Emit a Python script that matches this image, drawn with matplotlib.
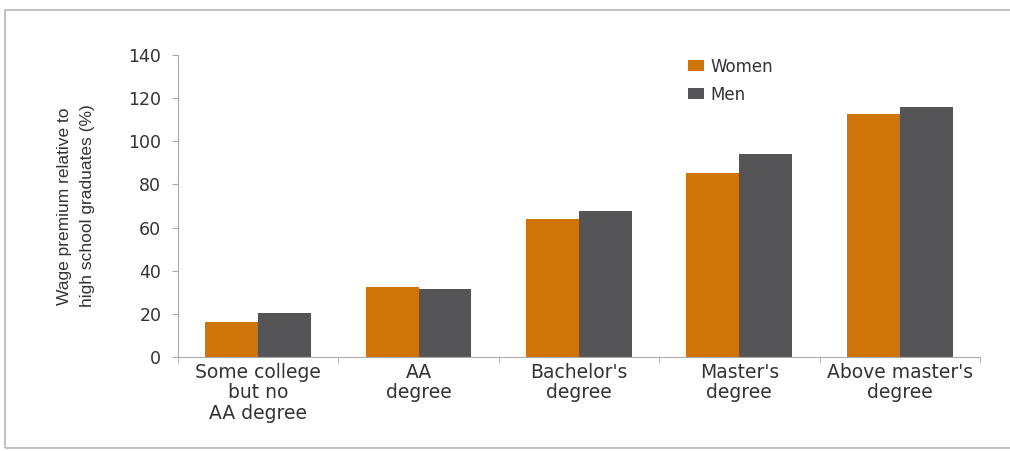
import numpy as np
import matplotlib.pyplot as plt
from matplotlib.patches import Rectangle

plt.rcParams['font.family'] = ['DejaVu Sans']

categories = ['Some college\nbut no\nAA degree', 'AA\ndegree', "Bachelor's\ndegree",
              "Master's\ndegree", "Above master's\ndegree"]
women = [16.2, 32.5, 64.0, 85.3, 112.6]
men = [20.4, 31.5, 67.7, 94.1, 116.0]

orange = '#cf7409'
grey = '#555557'
text_col = '#333333'

fig = plt.figure(figsize=(10.1, 4.51), dpi=100)
ax = fig.add_axes([0.1762, 0.2084, 0.794, 0.670])

# outer frame
fig.patches.append(Rectangle((0.005, 0.007), 1.2, 0.971, transform=fig.transFigure,
                             fill=False, edgecolor='#b8b8b8', linewidth=1.2))

x = np.arange(len(categories))
w = 0.33
ax.bar(x - w / 2, women, w, color=orange, label='Women')
ax.bar(x + w / 2, men, w, color=grey, label='Men')

ax.set_xlim(-0.5, len(categories) - 0.5)
ax.set_ylim(0, 140)
ax.set_yticks(range(0, 141, 20))
ax.set_xticks(x)
ax.set_xticklabels(categories, fontsize=13.5, color=text_col, linespacing=1.1)
ax.set_xticks(np.arange(-0.5, len(categories)), minor=True)
ax.tick_params(axis='x', which='major', length=0, pad=4)
ax.tick_params(axis='x', which='minor', length=4, color='#aaaaaa', direction='out')
ax.tick_params(axis='y', length=4, color='#aaaaaa', labelsize=12.5, labelcolor=text_col, pad=8)

for s in ['top', 'right']:
    ax.spines[s].set_visible(False)
for s in ['left', 'bottom']:
    ax.spines[s].set_color('#aaaaaa')

ax.set_ylabel('Wage premium relative to\nhigh school graduates (%)', fontsize=12.5,
              family='Liberation Sans', color=text_col, labelpad=24, linespacing=1.65)

ax.legend(loc='upper left', bbox_to_anchor=(0.617, 1.04), frameon=False, fontsize=12,
          handlelength=1.0, handleheight=0.65, handletextpad=0.35, labelspacing=0.6,
          labelcolor=text_col)

fig.savefig('out.png', dpi=100)
